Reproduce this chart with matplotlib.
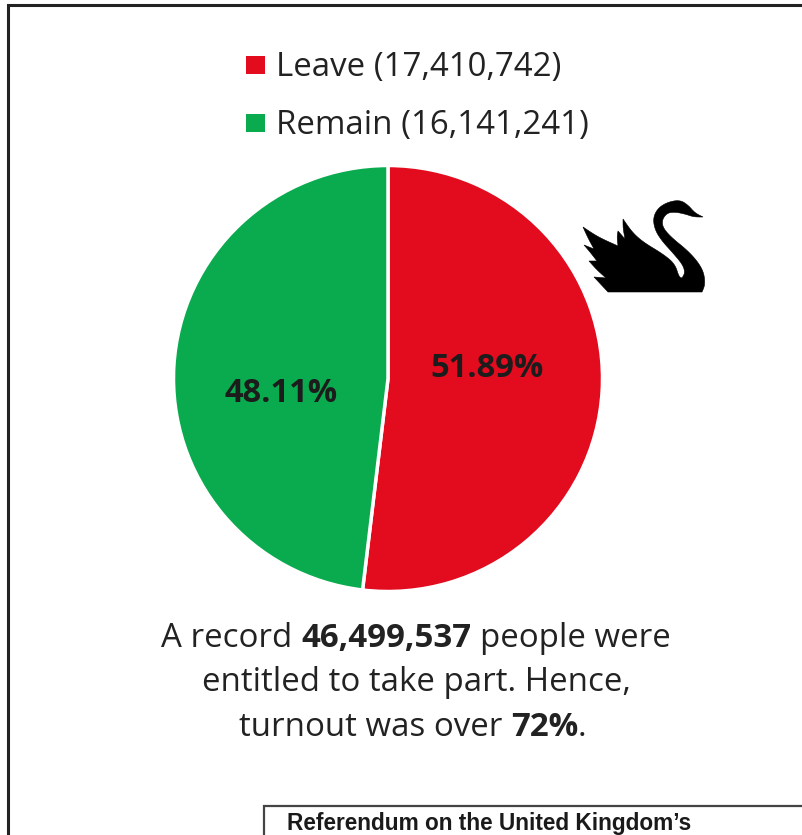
import matplotlib
matplotlib.use("Agg")
import matplotlib.pyplot as plt
from matplotlib.patches import Polygon, Rectangle

W, H = 802, 835
categories = ["Leave", "Remain"]
votes = [17410742, 16141241]
percent_labels = ["51.89%", "48.11%"]
colors = ["#E30B1E", "#0AAB4E"]
electorate = "46,499,537"
turnout = "72%"

# Swan silhouette outline in canvas pixels; the third value marks a sharp corner
swan_outline = [
    (608, 292, 1), (594, 277, 1), (606, 278, 1), (597, 270, 0), (589, 261, 1), (597, 261, 1),
    (590, 252, 0), (584, 245, 1), (594, 249, 1), (588, 238, 0), (583, 227, 1), (598, 237, 0),
    (618, 246, 1), (617, 237, 0), (618, 231, 1), (625, 239, 1), (623, 228, 0), (623, 219, 1),
    (632, 232, 0), (643, 242, 0), (663, 254, 0), (675, 264, 0), (679, 277, 0), (682, 278, 1),
    (685, 273, 0), (683, 265, 0), (673, 253, 0), (662, 241, 0), (655, 230, 0), (653, 218, 0),
    (658, 208, 0), (668, 202, 0), (680, 200, 0), (688, 205, 0), (695, 213, 0), (703, 217, 1),
    (694, 217, 0), (685, 214, 0), (675, 212, 0), (667, 213, 0), (662, 220, 0), (663, 228, 0),
    (672, 238, 0), (687, 250, 0), (698, 262, 0), (704, 273, 0), (705, 285, 0), (702, 292, 1),
]


def smooth_outline(points, passes=3):
    """Corner-cutting that rounds the outline and leaves sharp vertices alone."""
    for _ in range(passes):
        result = []
        n = len(points)
        for i, (x, y, sharp) in enumerate(points):
            if sharp:
                result.append((x, y, 1))
                continue
            px, py, _s = points[i - 1]
            nx, ny, _s = points[(i + 1) % n]
            result.append((0.75 * x + 0.25 * px, 0.75 * y + 0.25 * py, 0))
            result.append((0.75 * x + 0.25 * nx, 0.75 * y + 0.25 * ny, 0))
        points = result
    return [(x, y) for x, y, _s in points]


fig = plt.figure(figsize=(W / 100, H / 100), dpi=100, facecolor="white")
canvas = fig.add_axes([0, 0, 1, 1])
canvas.set_xlim(0, W)
canvas.set_ylim(H, 0)
canvas.axis("off")
canvas.set_zorder(2)
renderer = fig.canvas.get_renderer()

# Outer frame and the table box running off the bottom edge
canvas.plot([8, 8, W], [H, 5, 5], color="#222222", lw=2.2, solid_joinstyle="miter")
canvas.plot([264, 264, W], [H, 806, 806], color="#444444", lw=1.6, solid_joinstyle="miter")
canvas.text(287, 830, "Referendum on the United Kingdom’s", family="Liberation Sans",
            weight="bold", fontsize=16.3, color="#1a1a1a", va="baseline", ha="left")

# Legend
font = "Open Sans"
text_size = 23.8
for y, baseline, name, value, color in zip([65, 123], [76, 134], categories, votes, colors):
    canvas.add_patch(Rectangle((246, y - 9), 19, 18, facecolor=color, edgecolor="none"))
    canvas.text(276, baseline, f"{name} ({value:,})", family=font, fontsize=text_size,
                color="#222222", va="baseline", ha="left")

# Pie, clockwise from twelve o'clock
left, right, top, bottom = 173.5, 602.5, 165.5, 591.5
pie_ax = fig.add_axes([left / W, 1 - bottom / H, (right - left) / W, (bottom - top) / H])
pie_ax.set_zorder(1)
pie_ax.pie(votes, colors=colors, startangle=90, counterclock=False, radius=1,
           wedgeprops=dict(edgecolor="white", linewidth=2.5))
pie_ax.set_xlim(-1, 1)
pie_ax.set_ylim(-1, 1)
pie_ax.set_aspect("auto")

canvas.text(487, 377, percent_labels[0], family=font, weight="bold", fontsize=23.5,
            color="#1c1c1c", ha="center", va="baseline", zorder=5)
canvas.text(281, 402, percent_labels[1], family=font, weight="bold", fontsize=23.5,
            color="#1c1c1c", ha="center", va="baseline", zorder=5)

canvas.add_patch(Polygon(smooth_outline(swan_outline), closed=True, facecolor="black",
                         edgecolor="black", lw=0.4))


def mixed_line(center_x, baseline, pieces, size):
    """Draw a centred line made of (text, weight) runs."""
    artists = [canvas.text(0, baseline, t, family=font, fontsize=size, weight=w,
                           color="#222222", va="baseline", ha="left") for t, w in pieces]
    space = size * 100 / 72 * 0.26
    widths = [a.get_window_extent(renderer).width for a in artists]
    x = center_x - (sum(widths) + space * (len(pieces) - 1)) / 2
    for (text, _w), artist, width in zip(pieces, artists, widths):
        if text == ".":
            x -= space
        artist.set_x(x)
        x += width + space


# Caption with bold figures
mixed_line(416, 647, [("A record", "normal"), (electorate, "bold"), ("people were", "normal")],
           text_size)
mixed_line(416, 691, [("entitled to take part. Hence,", "normal")], text_size)
mixed_line(417, 736, [("turnout was over", "normal"), (turnout, "bold"), (".", "normal")],
           text_size)

fig.savefig("out.png", dpi=100, facecolor="white")
